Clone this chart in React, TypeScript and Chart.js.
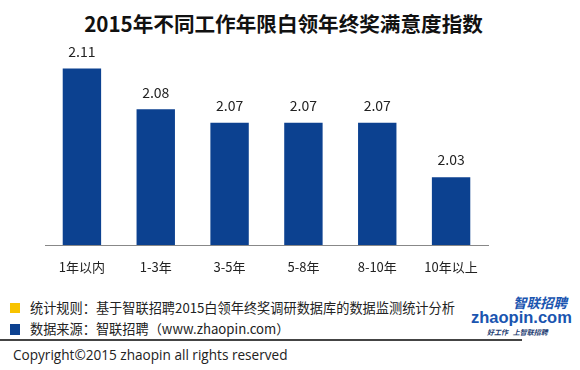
import React, { useEffect, useRef } from "react";
import { Chart, registerables } from "chart.js";

Chart.register(...registerables);

const title = "2015年不同工作年限白领年终奖满意度指数";
const categories = ["1年以内", "1-3年", "3-5年", "5-8年", "8-10年", "10年以上"];
const values = [2.11, 2.08, 2.07, 2.07, 2.07, 2.03];
const yMin = 1.98;
const yMax = 2.12;
const noteRule = "统计规则：基于智联招聘2015白领年终奖调研数据库的数据监测统计分析";
const noteSource = "数据来源：智联招聘（www.zhaopin.com）";
const copyright = "Copyright©2015 zhaopin all rights reserved";

const BAR = "#0c4190";
const CJK = "'Noto Sans CJK SC', 'Noto Sans', sans-serif";

const valueLabels = {
  id: "valueLabels",
  afterDatasetsDraw(chart: any) {
    const ctx = chart.ctx;
    const meta = chart.getDatasetMeta(0);
    ctx.save();
    ctx.font = `14px ${CJK}`;
    ctx.fillStyle = "#222";
    ctx.textAlign = "center";
    ctx.textBaseline = "bottom";
    meta.data.forEach((bar: any, i: number) => {
      ctx.fillText(values[i].toFixed(2), bar.x, bar.y - 10);
    });
    ctx.restore();
  },
};

export default function App() {
  const ref = useRef<HTMLCanvasElement>(null);
  useEffect(() => {
    if (!ref.current) return;
    const chart = new Chart(ref.current, {
      type: "bar",
      data: {
        labels: categories,
        datasets: [
          {
            data: values,
            backgroundColor: BAR,
            categoryPercentage: 1,
            barPercentage: 0.52,
          },
        ],
      },
      options: {
        animation: false,
        responsive: false,
        maintainAspectRatio: false,
        layout: { padding: { left: 45, right: 92, top: 55, bottom: 0 } },
        plugins: { legend: { display: false }, tooltip: { enabled: false } },
        scales: {
          x: {
            grid: { display: false, drawTicks: false },
            border: { display: true, color: "#888", width: 1 },
            ticks: { color: "#222", font: { size: 13, family: CJK }, padding: 14 },
            afterFit: (s: any) => {
              s.height = 45;
            },
          },
          y: {
            display: false,
            min: yMin,
            max: yMax,
          },
        },
      },
      plugins: [valueLabels],
    });
    return () => chart.destroy();
  }, []);

  const note = { position: "absolute" as const, left: 30, fontSize: 13.2, color: "#222", lineHeight: "18px", whiteSpace: "nowrap" as const };

  return (
    <div style={{ position: "fixed", left: 0, top: 0, width: 580, height: 370, background: "#fff", overflow: "hidden", fontFamily: CJK }}>
      <div style={{ position: "absolute", left: 0, top: 9, width: 567, textAlign: "center", fontSize: 20.6, fontWeight: 700, color: "#111", lineHeight: "28px", whiteSpace: "nowrap" }}>{title}</div>
      <canvas ref={ref} width={580} height={290} style={{ position: "absolute", left: 0, top: 0 }} />
      <div style={{ position: "absolute", left: 10, top: 303, width: 10, height: 10, background: "#f8c300" }} />
      <div style={{ ...note, top: 299 }}>{noteRule}</div>
      <div style={{ position: "absolute", left: 10, top: 324, width: 10, height: 11, background: BAR }} />
      <div style={{ ...note, top: 320 }}>{noteSource}</div>
      <div style={{ position: "absolute", left: 0, top: 339, width: 522, height: 2, background: "#444" }} />
      <div style={{ position: "absolute", left: 13, top: 346, fontSize: 13.6, color: "#222", lineHeight: "18px", whiteSpace: "nowrap", fontFamily: "'Open Sans', 'Noto Sans', sans-serif" }}>{copyright}</div>
      <div style={{ position: "absolute", left: 513, top: 294, fontSize: 13.5, fontStyle: "italic", fontWeight: 700, color: "#1a55b0", whiteSpace: "nowrap", lineHeight: "16px" }}>智联招聘</div>
      <div style={{ position: "absolute", left: 471, top: 307, fontSize: 16.5, fontWeight: 700, color: "#1a55b0", whiteSpace: "nowrap", lineHeight: "20px", fontFamily: "'Liberation Sans', sans-serif" }}>zhaopin.com</div>
      <div style={{ position: "absolute", left: 487, top: 328, fontSize: 7, fontStyle: "italic", fontWeight: 700, color: "#1a3a70", whiteSpace: "nowrap", lineHeight: "9px" }}>好工作&nbsp;&nbsp;&nbsp;上智联招聘</div>
    </div>
  );
}
